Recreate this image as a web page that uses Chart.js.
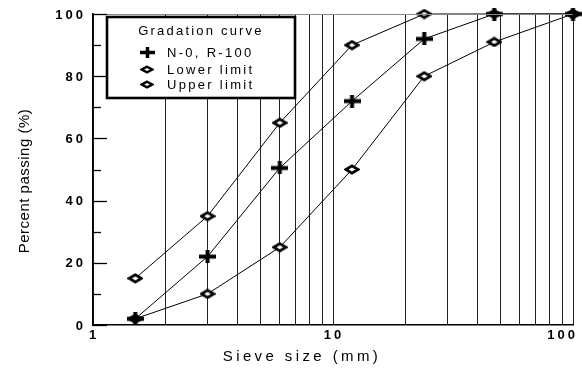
<!DOCTYPE html>
<html>
<head>
<meta charset="utf-8">
<script src="https://cdn.jsdelivr.net/npm/chart.js@4.4.0/dist/chart.umd.min.js"></script>
<style>
  html, body { margin: 0; padding: 0; background: #fff; }
  #wrap { width: 582px; height: 371px; position: relative; }
</style>
</head>
<body>
<div id="wrap"><canvas id="c"></canvas></div>
<script>
// Sieve sizes (mm) and percent passing for each gradation curve
const sieveSizes = [1.5, 3, 6, 12, 24, 47, 100];
const passingN0R100 = [2, 22, 50.5, 72, 92, 100, 100];
const lowerLimit = [2, 10, 25, 50, 80, 91, 100];
const upperLimit = [15, 35, 65, 90, 100, 100, 100];

const seriesNames = ['N-0, R-100', 'Lower limit', 'Upper limit'];
const legendTitle = 'Gradation curve';
const xTickLabels = [1, 10, 100];
const yTickLabels = [0, 20, 40, 60, 80, 100];
const xTitle = 'Sieve size (mm)';
const yTitle = 'Percent passing (%)';

const FONT = '"Liberation Sans", Arial, sans-serif';

// Marker sprites: a heavy plus sign and an open diamond
function makeCross(w, h, t) {
  const c = document.createElement('canvas');
  c.width = w; c.height = h;
  const g = c.getContext('2d');
  g.fillStyle = '#000';
  g.fillRect(0, (h - t) / 2, w, t);
  g.fillRect((w - t) / 2, 0, t, h);
  return c;
}
function makeDiamond(w, h, lw) {
  const c = document.createElement('canvas');
  c.width = w; c.height = h;
  const g = c.getContext('2d');
  const m = lw / 2 + 0.5;
  g.beginPath();
  g.moveTo(w / 2, m);
  g.lineTo(w - m, h / 2);
  g.lineTo(w / 2, h - m);
  g.lineTo(m, h / 2);
  g.closePath();
  g.fillStyle = '#fff';
  g.fill();
  g.lineWidth = lw;
  g.strokeStyle = '#000';
  g.stroke();
  return c;
}
const crossMark = makeCross(17, 13, 4);
const diamondMark = makeDiamond(16, 11, 2.8);
const crossSmall = makeCross(15, 11, 3.5);
const diamondSmall = makeDiamond(14, 9, 2.4);

function toPoints(values) {
  return sieveSizes.map((x, i) => ({ x: x, y: values[i] }));
}

const markers = [crossMark, diamondMark, diamondMark];
const legendMarkers = [crossSmall, diamondSmall, diamondSmall];
const seriesValues = [passingN0R100, lowerLimit, upperLimit];

const datasets = seriesValues.map((vals, i) => ({
  label: seriesNames[i],
  data: toPoints(vals),
  borderColor: '#000',
  borderWidth: 1,
  pointStyle: markers[i],
  pointRadius: 7,
  tension: 0,
  fill: false,
  clip: false
}));

// Log-cycle grid: 1..9, 10..90, 100
function logCycleTicks(min, max) {
  const out = [];
  for (let d = min; d < max; d *= 10) {
    for (let k = 1; k <= 9; k++) out.push({ value: k * d });
  }
  out.push({ value: max });
  return out;
}

// Axis labels, inward ticks, titles and the boxed legend
const decorations = {
  id: 'decorations',
  afterDraw(chart) {
    const ctx = chart.ctx;
    const xs = chart.scales.x, ys = chart.scales.y;
    const area = chart.chartArea;
    ctx.save();

    // top frame line
    ctx.strokeStyle = '#888';
    ctx.lineWidth = 1;
    ctx.beginPath();
    ctx.moveTo(area.left, area.top + 0.5);
    ctx.lineTo(area.right, area.top + 0.5);
    ctx.stroke();

    // inward y ticks: long at labelled values, short in between
    ctx.strokeStyle = '#000';
    ctx.lineWidth = 1.3;
    for (let v = 0; v <= 100; v += 10) {
      const y = Math.round(ys.getPixelForValue(v)) + 0.5;
      const len = yTickLabels.includes(v) ? 14 : 8;
      ctx.beginPath();
      ctx.moveTo(area.left, y);
      ctx.lineTo(area.left + len, y);
      ctx.stroke();
    }

    ctx.fillStyle = '#000';
    // y tick labels
    ctx.font = 'bold 13px ' + FONT;
    ctx.letterSpacing = '3px';
    ctx.textAlign = 'right';
    ctx.textBaseline = 'middle';
    yTickLabels.forEach(v => {
      ctx.fillText(String(v), area.left - 7, ys.getPixelForValue(v) + 1);
    });

    // x tick labels
    ctx.textAlign = 'center';
    xTickLabels.forEach((v, i) => {
      let x = xs.getPixelForValue(v);
      if (i === xTickLabels.length - 1) {
        ctx.textAlign = 'right';
        x = area.right + 4;
      }
      ctx.fillText(String(v), x + 1, area.bottom + 10);
    });

    // axis titles
    ctx.font = '15px ' + FONT;
    ctx.letterSpacing = '3.4px';
    ctx.textAlign = 'center';
    ctx.fillText(xTitle, 302, 357);

    ctx.save();
    ctx.translate(25, 181);
    ctx.rotate(-Math.PI / 2);
    ctx.letterSpacing = '0.5px';
    ctx.fillText(yTitle, 0, 0);
    ctx.restore();

    // legend box
    const bx = 107, by = 17, bw = 188, bh = 81;
    ctx.fillStyle = '#fff';
    ctx.fillRect(bx, by, bw, bh);
    ctx.strokeStyle = '#000';
    ctx.lineWidth = 2.6;
    ctx.strokeRect(bx, by, bw, bh);

    ctx.fillStyle = '#000';
    ctx.font = '13px ' + FONT;
    ctx.letterSpacing = '2.2px';
    ctx.textAlign = 'center';
    ctx.fillText(legendTitle, 201, 31);

    const rows = [52, 69, 84];
    ctx.textAlign = 'left';
    ctx.letterSpacing = '2.3px';
    seriesNames.forEach((name, i) => {
      const m = legendMarkers[i];
      ctx.drawImage(m, Math.round(147 - m.width / 2), Math.round(rows[i] - m.height / 2));
      ctx.fillText(name, 167, rows[i] + 1);
    });

    ctx.restore();
  }
};

new Chart(document.getElementById('c'), {
  type: 'line',
  data: { datasets: datasets },
  options: {
    responsive: true,
    maintainAspectRatio: false,
    animation: false,
    devicePixelRatio: 1,
    layout: { padding: { left: 93, right: 9, top: 14, bottom: 46 } },
    plugins: { legend: { display: false }, tooltip: { enabled: false } },
    scales: {
      x: {
        type: 'logarithmic',
        min: 1,
        max: 100,
        ticks: { display: false },
        grid: { color: '#222', lineWidth: 1, drawTicks: false },
        border: { display: true, color: '#000', width: 1.5 },
        afterBuildTicks: s => { s.ticks = logCycleTicks(1, 100); },
        afterFit: s => { s.height = 0; }
      },
      y: {
        type: 'linear',
        min: 0,
        max: 100,
        ticks: { display: false, stepSize: 10 },
        grid: { display: false, drawTicks: false },
        border: { display: true, color: '#000', width: 1.5 },
        afterFit: s => { s.width = 0; }
      }
    }
  },
  plugins: [decorations]
});
</script>
</body>
</html>
